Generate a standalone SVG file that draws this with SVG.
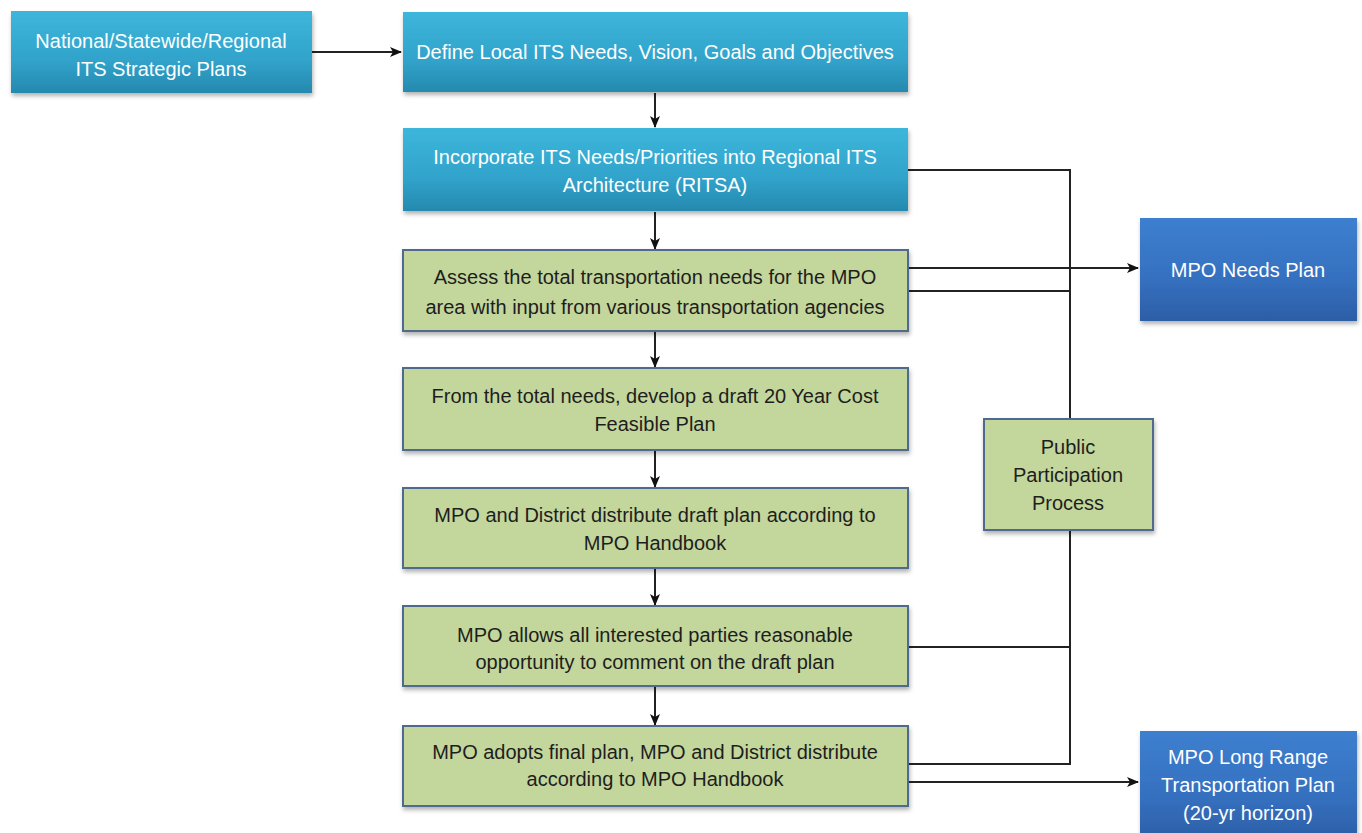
<svg xmlns="http://www.w3.org/2000/svg" width="1362" height="833" viewBox="0 0 1362 833">
<style>
.t{font-family:"Liberation Sans",Arial,sans-serif;font-size:20px;text-anchor:middle}
.w{fill:#ffffff}
.d{fill:#1e1e1e}
.green{fill:#c3d69b;stroke:#4f6b8c;stroke-width:2}
.teal{fill:url(#gTeal)}
.blue{fill:url(#gBlue)}
.c{fill:none;stroke:#222;stroke-width:2}
</style>
<defs>
<linearGradient id="gTeal" x1="0" y1="0" x2="0" y2="1">
<stop offset="0" stop-color="#3db6db"/>
<stop offset="0.6" stop-color="#31a3cb"/>
<stop offset="1" stop-color="#2689ae"/>
</linearGradient>
<linearGradient id="gBlue" x1="0" y1="0" x2="0" y2="1">
<stop offset="0" stop-color="#3d7fcf"/>
<stop offset="0.6" stop-color="#3570bf"/>
<stop offset="1" stop-color="#2c5ea6"/>
</linearGradient>
<filter id="sh" x="-5%" y="-10%" width="110%" height="125%">
<feDropShadow dx="1" dy="3" stdDeviation="2" flood-color="#000" flood-opacity="0.3"/>
</filter>
<marker id="ah" viewBox="0 0 12 10" refX="11" refY="5" markerWidth="12" markerHeight="10" markerUnits="userSpaceOnUse" orient="auto">
<path d="M0,0 L12,5 L0,10 L3,5 Z" fill="#111"/>
</marker>
</defs>

<g id="connectors">
<line class="c" x1="312" y1="52" x2="401" y2="52" marker-end="url(#ah)"/>
<line class="c" x1="655" y1="93" x2="655" y2="127" marker-end="url(#ah)"/>
<line class="c" x1="655" y1="212" x2="655" y2="249" marker-end="url(#ah)"/>
<line class="c" x1="655" y1="331" x2="655" y2="367" marker-end="url(#ah)"/>
<line class="c" x1="655" y1="451" x2="655" y2="487" marker-end="url(#ah)"/>
<line class="c" x1="655" y1="569" x2="655" y2="605" marker-end="url(#ah)"/>
<line class="c" x1="655" y1="687" x2="655" y2="725" marker-end="url(#ah)"/>
<polyline class="c" points="908,170 1070,170 1070,419"/>
<line class="c" x1="908" y1="268" x2="1138" y2="268" marker-end="url(#ah)"/>
<line class="c" x1="908" y1="291" x2="1070" y2="291"/>
<polyline class="c" points="1070,530 1070,764 908,764"/>
<line class="c" x1="908" y1="647" x2="1070" y2="647"/>
<line class="c" x1="908" y1="782" x2="1138" y2="782" marker-end="url(#ah)"/>
</g>

<g id="national">
<rect class="teal" x="11" y="11" width="301" height="82" filter="url(#sh)"/>
<text class="t w" x="161" y="48">National/Statewide/Regional</text>
<text class="t w" x="161" y="76">ITS Strategic Plans</text>
</g>

<g id="define">
<rect class="teal" x="403" y="12" width="505" height="80" filter="url(#sh)"/>
<text class="t w" x="655" y="59">Define Local ITS Needs, Vision, Goals and Objectives</text>
</g>

<g id="incorporate">
<rect class="teal" x="403" y="128" width="505" height="83" filter="url(#sh)"/>
<text class="t w" x="655" y="164">Incorporate ITS Needs/Priorities into Regional ITS</text>
<text class="t w" x="655" y="192">Architecture (RITSA)</text>
</g>

<g id="assess">
<rect class="green" x="403" y="250" width="505" height="81" filter="url(#sh)"/>
<text class="t d" x="655" y="284">Assess the total transportation needs for the MPO</text>
<text class="t d" x="655" y="314">area with input from various transportation agencies</text>
</g>

<g id="feasible">
<rect class="green" x="403" y="368" width="505" height="82" filter="url(#sh)"/>
<text class="t d" x="655" y="403">From the total needs, develop a draft 20 Year Cost</text>
<text class="t d" x="655" y="431">Feasible Plan</text>
</g>

<g id="distribute">
<rect class="green" x="403" y="488" width="505" height="80" filter="url(#sh)"/>
<text class="t d" x="655" y="522">MPO and District distribute draft plan according to</text>
<text class="t d" x="655" y="550">MPO Handbook</text>
</g>

<g id="comment">
<rect class="green" x="403" y="606" width="505" height="80" filter="url(#sh)"/>
<text class="t d" x="655" y="642">MPO allows all interested parties reasonable</text>
<text class="t d" x="655" y="669">opportunity to comment on the draft plan</text>
</g>

<g id="adopt">
<rect class="green" x="403" y="726" width="505" height="80" filter="url(#sh)"/>
<text class="t d" x="655" y="759">MPO adopts final plan, MPO and District distribute</text>
<text class="t d" x="655" y="786">according to MPO Handbook</text>
</g>

<g id="public">
<rect class="green" x="984" y="419" width="169" height="111" filter="url(#sh)"/>
<text class="t d" x="1068" y="454">Public</text>
<text class="t d" x="1068" y="482">Participation</text>
<text class="t d" x="1068" y="510">Process</text>
</g>

<g id="needs-plan">
<rect class="blue" x="1140" y="218" width="217" height="103" filter="url(#sh)"/>
<text class="t w" x="1248" y="277">MPO Needs Plan</text>
</g>

<g id="lrtp">
<rect class="blue" x="1140" y="731" width="217" height="110" filter="url(#sh)"/>
<text class="t w" x="1248" y="764">MPO Long Range</text>
<text class="t w" x="1248" y="792">Transportation Plan</text>
<text class="t w" x="1248" y="820">(20-yr horizon)</text>
</g>
</svg>
